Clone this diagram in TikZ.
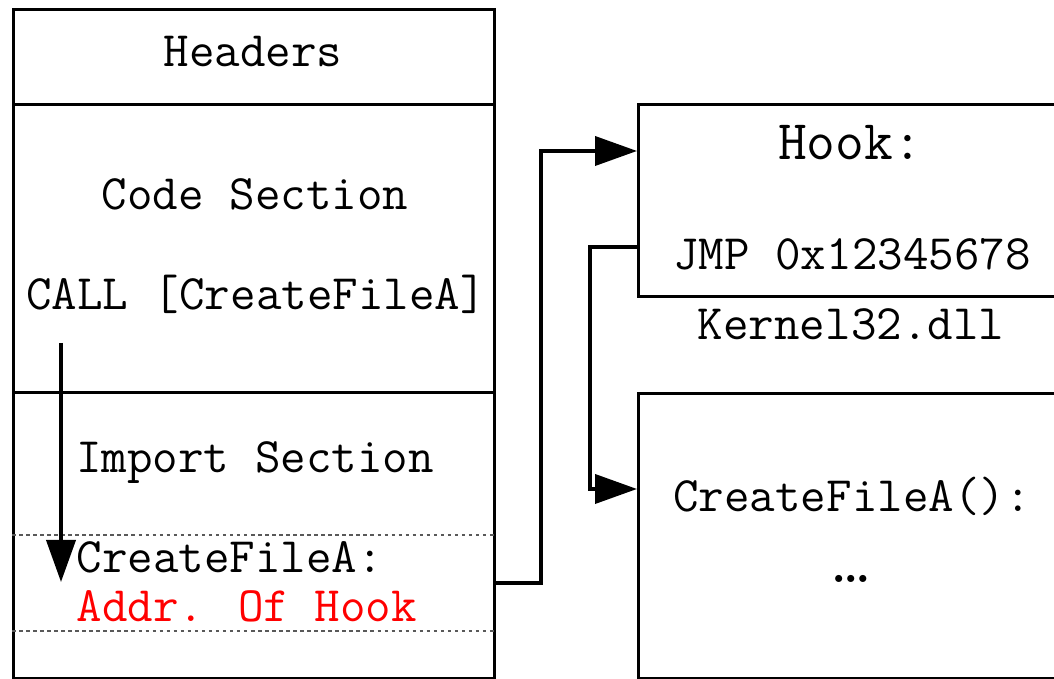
\documentclass[tikz,border=0pt]{standalone}
\usepackage{fontspec}
\usepackage{tikz}
\usetikzlibrary{arrows.meta,positioning}
\usepackage{xcolor}

\begin{document}
\begin{tikzpicture}[
      sect/.style={draw,line width=0.85pt,anchor=north west,inner sep=0pt,
                   minimum width=4.81cm},
      mod/.style={draw,line width=0.85pt,anchor=north west,inner sep=0pt,
                  minimum width=5cm},
      txt/.style={anchor=base,inner sep=0pt,
                  font=\ttfamily\fontsize{14.1}{16}\selectfont},
      slot/.style={gray!70!black,line width=0.35pt,dash pattern=on 1pt off 1pt},
      arr/.style={-{Triangle[length=4.2mm,width=2.9mm]},line width=1.1pt}]
    \useasboundingbox (0,0) rectangle (10.54,6.79);
    \clip (0,0) rectangle (10.54,6.79);

    % PE image of the process
    \node[sect,minimum height=0.95cm] (headers) at (0.12,6.71) {};
    \node[sect,minimum height=2.88cm] (codesec) at (0.12,5.76) {};
    \node[sect,minimum height=2.86cm] (importsec) at (0.12,2.88) {};

    \node[txt] (hdr) at (2.53,6.12) {Headers};
    \node[txt] (code) at (2.55,4.69) {Code Section};
    \node[txt] (call) at (2.56,3.69) {CALL [CreateFileA]};
    \node[txt] (imp) at (2.55,2.06) {Import Section};
    \node[txt,anchor=base west] (iatname) at (0.76,1.06) {CreateFileA:};
    \node[txt,anchor=base west,text=red] (iataddr) at (0.76,0.57) {Addr. Of Hook};

    \draw[slot] (importsec.west |- 0,1.44) -- (importsec.east |- 0,1.44);
    \draw[slot] (importsec.west |- 0,0.48) -- (importsec.east |- 0,0.48);

    % kernel32 side
    \node[mod,minimum height=1.92cm] (hookbox) at (6.37,5.76) {};
    \node[mod,minimum height=2.85cm] (targetbox) at (6.37,2.87) {};

    \node[txt,font=\ttfamily\fontsize{15.9}{18}\selectfont] (hooklbl) at (8.50,5.19) {Hook:};
    \node[txt] (jmp) at (8.52,4.09) {JMP 0x12345678};
    \node[txt] (kernel) at (8.51,3.39) {Kernel32.dll};
    \node[txt] (target) at (8.52,1.67) {CreateFileA():};
    \node[txt,font=\rmfamily\bfseries\fontsize{14}{16}\selectfont] (dots) at (8.51,0.96) {\textellipsis};

    \coordinate (callout) at (0.61,3.36);
    \coordinate (callin) at (0.61,0.97);
    \coordinate (iatslot) at (4.93,0.96);
    \coordinate (hookin) at (6.37,5.28);
    \coordinate (jmpout) at (6.37,4.32);
    \coordinate (realin) at (6.37,1.90);

    \draw[arr] (callout) -- (callin);
    \draw[arr] (iatslot) -- ++(0.48,0) |- (hookin);
    \draw[arr] (jmpout) -- ++(-0.47,0) |- (realin);
  \end{tikzpicture}
\end{document}
